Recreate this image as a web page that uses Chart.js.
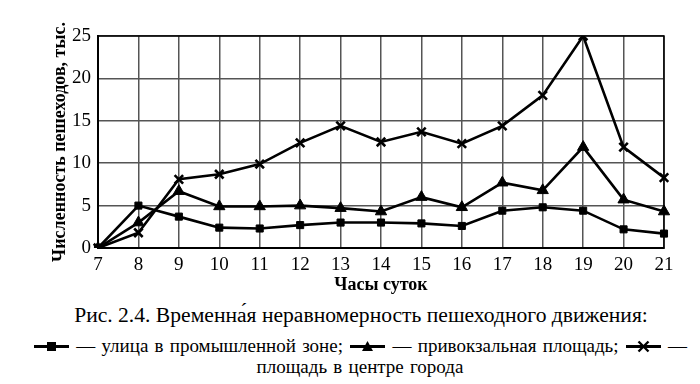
<!DOCTYPE html>
<html><head><meta charset="utf-8">
<script src="https://cdn.jsdelivr.net/npm/chart.js@4/dist/chart.umd.min.js"></script>
<style>
html,body{margin:0;padding:0;background:#fff;}
body{width:700px;height:384px;overflow:hidden;font-family:"Liberation Serif",serif;color:#000;}
#wrap{position:absolute;left:0;top:0;width:700px;height:296px;}
#caption{position:absolute;left:0;top:303px;width:722px;text-align:center;font-size:21.6px;line-height:24px;}
#legend{position:absolute;left:0;top:335px;width:720px;text-align:center;font-size:19px;line-height:21px;word-spacing:1.5px;}
#legend svg{vertical-align:-3px;}
.lab{display:inline-block;}
</style></head><body>
<div id="wrap"><canvas id="c" width="700" height="296"></canvas></div>
<div id="caption">Рис. 2.4. Временна́я неравномерность пешеходного движения:</div>
<div id="legend"></div>
<script>
const hours = ["7","8","9","10","11","12","13","14","15","16","17","18","19","20","21"];
const industrialStreet = [0,5.0,3.7,2.4,2.3,2.7,3.0,3.0,2.9,2.6,4.4,4.8,4.4,2.2,1.7];
const stationSquare = [0,3.0,6.7,4.9,4.9,5.0,4.7,4.3,6.0,4.8,7.7,6.8,11.9,5.7,4.3];
const centerSquare = [0,1.8,8.1,8.7,9.9,12.4,14.4,12.5,13.7,12.3,14.4,18.0,25.0,11.9,8.3];
const seriesLabels = ["улица в промышленной зоне","привокзальная площадь","площадь в центре города"];
const yTicks = [0,5,10,15,20,25];
const yTitle = "Численность пешеходов, тыс.";
const xTitle = "Часы суток";

const FAM = "'Liberation Serif', serif";
const styles = ['rect','triangle','crossRot'];
const radii = [5,6.5,6];
const data = [industrialStreet, stationSquare, centerSquare];

function draw(){
new Chart(document.getElementById('c'), {
  type:'line',
  data:{labels:hours, datasets:data.map((d,i)=>({
    label:seriesLabels[i], data:d, borderColor:'#000', backgroundColor:'#000',
    borderWidth:2.6, pointStyle:styles[i], pointRadius:radii[i], pointBorderWidth: i===2?2.6:1,
    pointBackgroundColor:'#000', pointBorderColor:'#000', tension:0
  }))},
  options:{
    animation:false, responsive:false, devicePixelRatio:1,
    layout:{padding:{left:46,right:36,top:36,bottom:0}},
    plugins:{legend:{display:false},tooltip:{enabled:false}},
    scales:{
      x:{type:'category', offset:false,
        grid:{color:'#555',lineWidth:1.5,drawTicks:false},
        border:{color:'#000',width:2},
        ticks:{color:'#000',font:{family:FAM,size:19},padding:6,maxRotation:0},
        title:{display:true,text:xTitle,color:'#000',font:{family:FAM,size:18,weight:'bold'},padding:{top:0,bottom:0}},
        afterFit:s=>{s.height=48;}
      },
      y:{min:0,max:25,
        afterBuildTicks:s=>{s.ticks=yTicks.map(v=>({value:v}));},
        grid:{color:'#555',lineWidth:1.5,drawTicks:false},
        border:{color:'#000',width:2},
        ticks:{color:'#000',font:{family:FAM,size:19},padding:7},
        title:{display:true,text:yTitle,color:'#000',font:{family:FAM,size:18,weight:'bold'},padding:{top:4,bottom:0}},
        afterFit:s=>{s.width=52;}
      }
    }
  },
  plugins:[{id:'frame',afterDraw(ch){const a=ch.chartArea,c=ch.ctx;c.save();c.strokeStyle='#000';c.lineWidth=1.5;c.strokeRect(a.left,a.top,a.right-a.left,a.bottom-a.top);c.restore();}}]
});
}

function marker(i){
  let m='';
  if(i===0) m='<rect x="14" y="4" width="9" height="9" fill="#000"/>';
  else if(i===1) m='<polygon points="18.5,3 24,13 13,13" fill="#000"/>';
  else m='<path d="M13.5,3.5 L23.5,13.5 M23.5,3.5 L13.5,13.5" stroke="#000" stroke-width="2.4"/>';
  return '<svg width="37" height="17" viewBox="0 0 37 17"><line x1="1" y1="8.5" x2="36" y2="8.5" stroke="#000" stroke-width="3"/>'+m+'</svg>';
}
const lg=document.getElementById('legend');
lg.innerHTML = seriesLabels.map((l,i)=>marker(i)+' — <span class="lab">'+l+(i<2?';':'')+'</span>').join(' ');

Promise.all([document.fonts.load("19px 'Liberation Serif'"),document.fonts.load("bold 18px 'Liberation Serif'")]).then(draw,draw);
</script>
</body></html>
